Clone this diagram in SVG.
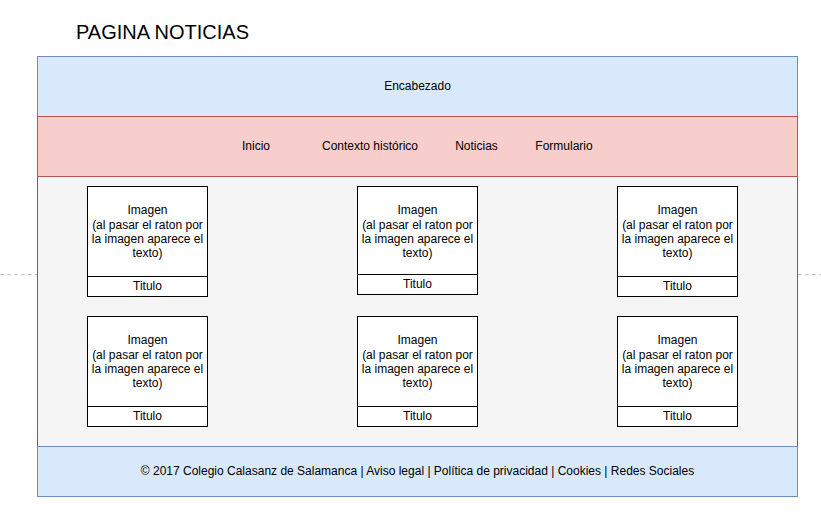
<svg xmlns="http://www.w3.org/2000/svg" width="821" height="514" viewBox="0 0 821 514">
<style>
text{font-family:"Liberation Sans",Arial,sans-serif;font-size:12px;fill:#000;text-anchor:middle}
.title{font-size:20px;text-anchor:start}
.card{fill:#fff;stroke:#000;stroke-width:1}
.blue{fill:#dae8fc;stroke:#6c8ebf}
.red{fill:#f8cecc;stroke:#b85450}
.gray{fill:#f5f5f5;stroke:#666}
.dash{stroke:#c8c8c8;stroke-dasharray:4 3;fill:none}
</style>
<rect width="821" height="514" fill="#fff"/>
<g id="connectors">
<line class="dash" x1="0" y1="274.5" x2="37" y2="274.5"/>
<line class="dash" x1="798" y1="274.5" x2="821" y2="274.5"/>
</g>
<g id="title"><text class="title" x="76" y="39">PAGINA NOTICIAS</text></g>
<g id="body"><rect class="gray" x="37.5" y="176.5" width="760" height="270"/></g>
<g id="header"><rect class="blue" x="37.5" y="56.5" width="760" height="60"/><text x="417.5" y="90">Encabezado</text></g>
<g id="nav"><rect class="red" x="37.5" y="116.5" width="760" height="60"/>
<text x="256" y="150">Inicio</text>
<text x="370" y="150">Contexto histórico</text>
<text x="476.5" y="150">Noticias</text>
<text x="564" y="150">Formulario</text>
</g>
<g id="footer"><rect class="blue" x="37.5" y="446.5" width="760" height="50"/><text x="417.5" y="475">© 2017 Colegio Calasanz de Salamanca | Aviso legal | Política de privacidad | Cookies | Redes Sociales</text></g>
<g id="card1">
<rect class="card" x="87.5" y="186.5" width="120" height="90"/><rect class="card" x="87.5" y="276.5" width="120" height="20"/>
<text x="147.5" y="214">Imagen</text><text x="147.5" y="228.5">(al pasar el raton por</text><text x="147.5" y="243">la imagen aparece el</text><text x="147.5" y="257">texto)</text>
<text x="147.5" y="290">Titulo</text></g>
<g id="card2">
<rect class="card" x="357.5" y="186.5" width="120" height="88"/><rect class="card" x="357.5" y="274.5" width="120" height="20"/>
<text x="417.5" y="214">Imagen</text><text x="417.5" y="228.5">(al pasar el raton por</text><text x="417.5" y="243">la imagen aparece el</text><text x="417.5" y="257">texto)</text>
<text x="417.5" y="288">Titulo</text></g>
<g id="card3">
<rect class="card" x="617.5" y="186.5" width="120" height="90"/><rect class="card" x="617.5" y="276.5" width="120" height="20"/>
<text x="677.5" y="214">Imagen</text><text x="677.5" y="228.5">(al pasar el raton por</text><text x="677.5" y="243">la imagen aparece el</text><text x="677.5" y="257">texto)</text>
<text x="677.5" y="290">Titulo</text></g>
<g id="card4">
<rect class="card" x="87.5" y="316.5" width="120" height="90"/><rect class="card" x="87.5" y="406.5" width="120" height="20"/>
<text x="147.5" y="344">Imagen</text><text x="147.5" y="358.5">(al pasar el raton por</text><text x="147.5" y="373">la imagen aparece el</text><text x="147.5" y="387">texto)</text>
<text x="147.5" y="420">Titulo</text></g>
<g id="card5">
<rect class="card" x="357.5" y="316.5" width="120" height="90"/><rect class="card" x="357.5" y="406.5" width="120" height="20"/>
<text x="417.5" y="344">Imagen</text><text x="417.5" y="358.5">(al pasar el raton por</text><text x="417.5" y="373">la imagen aparece el</text><text x="417.5" y="387">texto)</text>
<text x="417.5" y="420">Titulo</text></g>
<g id="card6">
<rect class="card" x="617.5" y="316.5" width="120" height="90"/><rect class="card" x="617.5" y="406.5" width="120" height="20"/>
<text x="677.5" y="344">Imagen</text><text x="677.5" y="358.5">(al pasar el raton por</text><text x="677.5" y="373">la imagen aparece el</text><text x="677.5" y="387">texto)</text>
<text x="677.5" y="420">Titulo</text></g>
</svg>
